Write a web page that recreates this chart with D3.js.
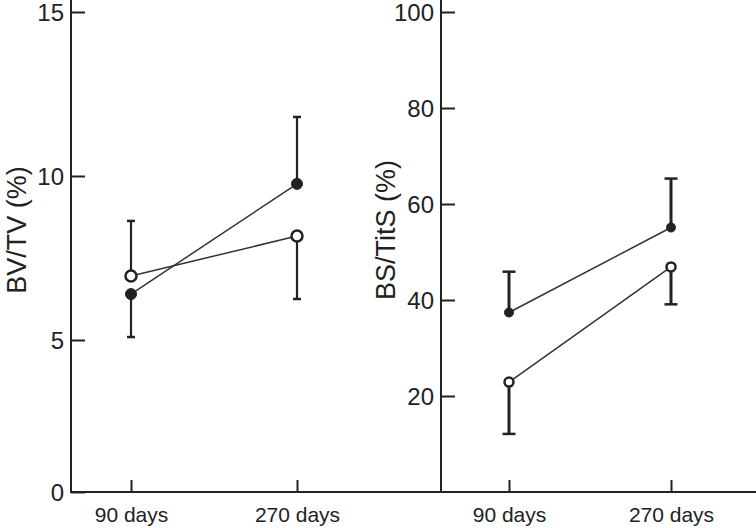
<!DOCTYPE html>
<html>
<head>
<meta charset="utf-8">
<script src="https://cdn.jsdelivr.net/npm/d3@7"></script>
<style>
  html, body { margin: 0; padding: 0; background: #fff; }
  svg { display: block; font-family: "Liberation Sans", Arial, sans-serif; }
</style>
</head>
<body>
<svg id="chart" width="756" height="528"></svg>
<script>
// ---- data ----
const categories = ["90 days", "270 days"];

// Left panel: BV/TV (%)
const bvTicks = [0, 5, 10, 15];
const bvFilled = [6.4, 9.76];
const bvFilledErrEnd = [5.09, 11.8];   // filled: 90 d down, 270 d up
const bvOpen = [6.95, 8.17];
const bvOpenErrEnd = [8.63, 6.25];     // open: 90 d up, 270 d down

// Right panel: BS/TitS (%)
const bsTicks = [20, 40, 60, 80, 100];
const bsFilled = [37.4, 55.1];
const bsFilledErrEnd = [45.9, 65.3];
const bsOpen = [22.9, 46.9];
const bsOpenErrEnd = [12.1, 39.1];

// ---- layout ----
const ink = "#222";
const svg = d3.select("#chart");
const axisY0 = 492;

function panel(opts) {
  const g = svg.append("g");
  const x = d3.scalePoint().domain(categories).range(opts.xRange);
  const y = opts.y;

  const yAxis = d3.axisLeft(y).tickValues(opts.ticks).tickSizeInner(-14).tickSizeOuter(0).tickPadding(7);
  const ya = g.append("g").attr("transform", `translate(${opts.axisX},0)`).call(yAxis);
  ya.select(".domain").remove();
  ya.selectAll(".tick line").attr("stroke", ink).attr("stroke-width", 2);
  ya.selectAll(".tick text").attr("fill", ink).style("font-size", "24px").attr("dy", "0.36em");

  const xAxis = d3.axisBottom(x).tickSizeInner(-12).tickSizeOuter(0).tickPadding(15);
  const xa = g.append("g").attr("transform", `translate(0,${axisY0})`).call(xAxis);
  xa.select(".domain").remove();
  xa.selectAll(".tick line").attr("stroke", ink).attr("stroke-width", 2);
  xa.selectAll(".tick text").attr("fill", ink).style("font-size", "21px");

  g.append("line").attr("x1", opts.axisX).attr("x2", opts.axisX)
    .attr("y1", 0).attr("y2", axisY0 + 1).attr("stroke", ink).attr("stroke-width", 2);

  g.append("text")
    .attr("transform", `translate(${opts.titleX},${opts.titleY}) rotate(-90)`)
    .attr("text-anchor", "middle").attr("fill", ink)
    .style("font-size", "27px").text(opts.title);

  const series = [
    { vals: opts.filled, err: opts.filledErr, filled: true },
    { vals: opts.open, err: opts.openErr, filled: false }
  ];
  const line = d3.line().x((d, i) => x(categories[i])).y(d => y(d));

  series.forEach(s => {
    g.append("path").datum(s.vals).attr("d", line)
      .attr("fill", "none").attr("stroke", "#333").attr("stroke-width", 1.5);
  });
  series.forEach(s => {
    s.vals.forEach((v, i) => {
      const cx = x(categories[i]);
      g.append("line").attr("x1", cx).attr("x2", cx)
        .attr("y1", y(v)).attr("y2", y(s.err[i]))
        .attr("stroke", ink).attr("stroke-width", opts.errW);
      g.append("line").attr("x1", cx - opts.capW / 2).attr("x2", cx + opts.capW / 2)
        .attr("y1", y(s.err[i])).attr("y2", y(s.err[i]))
        .attr("stroke", ink).attr("stroke-width", 2.5);
    });
  });
  series.forEach(s => {
    s.vals.forEach((v, i) => {
      g.append("circle").attr("cx", x(categories[i])).attr("cy", y(v))
        .attr("r", opts.r)
        .attr("fill", s.filled ? ink : "#fff")
        .attr("stroke", ink).attr("stroke-width", s.filled ? 1 : 2.5);
    });
  });
}

svg.append("line").attr("x1", 70).attr("x2", 756).attr("y1", axisY0).attr("y2", axisY0)
  .attr("stroke", ink).attr("stroke-width", 2);

panel({
  xRange: [131, 297],
  y: d3.scaleLinear().domain([0, 5, 15]).range([axisY0, 340, 12]),
  ticks: bvTicks, axisX: 71,
  title: "BV/TV (%)", titleX: 26, titleY: 230,
  filled: bvFilled, filledErr: bvFilledErrEnd,
  open: bvOpen, openErr: bvOpenErrEnd,
  r: 5.5, errW: 2.2, capW: 8
});

panel({
  xRange: [509, 671],
  y: d3.scaleLinear().domain([0, 100]).range([axisY0, 12]),
  ticks: bsTicks, axisX: 441,
  title: "BS/TitS (%)", titleX: 395, titleY: 230,
  filled: bsFilled, filledErr: bsFilledErrEnd,
  open: bsOpen, openErr: bsOpenErrEnd,
  r: 4.5, errW: 3, capW: 13
});
</script>
</body>
</html>
